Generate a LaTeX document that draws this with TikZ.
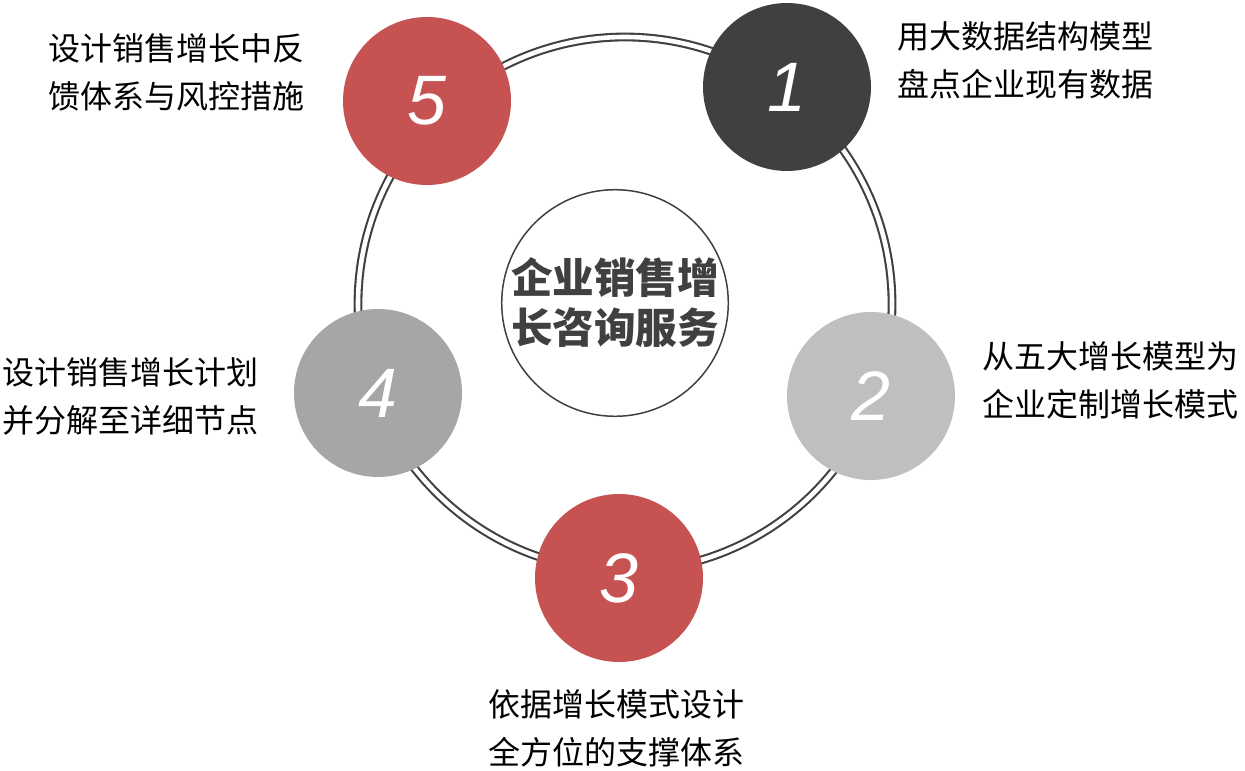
\documentclass[tikz,border=0pt]{standalone}
\usepackage{fontspec}
\setmainfont{Liberation Sans}
\newfontfamily\cjk{Noto Sans CJK SC}
\usepackage{tikz}
\usetikzlibrary{positioning,shapes.geometric}
\usepackage{xcolor}
\definecolor{stepred}{RGB}{199,82,82}
\definecolor{stepdark}{RGB}{64,64,64}
\definecolor{steplight}{RGB}{191,191,191}
\definecolor{stepmid}{RGB}{166,166,166}
\tikzset{
  bigring/.style ={circle, draw=stepdark, line width=1.05pt, double=white,
                   double distance=2.3pt, minimum size=267pt, inner sep=0pt},
  hub/.style     ={circle, draw=stepdark, line width=0.75pt, fill=white,
                   minimum size=112pt, inner sep=0pt, align=center,
                   font=\cjk\bfseries\fontsize{20.8}{25}\selectfont, text=stepdark},
  num/.style     ={circle, minimum size=84pt, inner sep=0pt, text=white,
                   font=\itshape\fontsize{35}{35}\selectfont},
  numR/.style    ={num, fill=stepred},   % Schritt 3, 5
  numD/.style    ={num, fill=stepdark},  % Schritt 1
  numL/.style    ={num, fill=steplight}, % Schritt 2
  numM/.style    ={num, fill=stepmid},   % Schritt 4
  note/.style    ={anchor=west, align=left, inner sep=0pt,
                   font=\cjk\fontsize{16}{24}\selectfont, text=black},
}

\begin{document}
\begin{tikzpicture}[x=0.5pt, y=-0.5pt]
  \useasboundingbox (0,0) rectangle (1245,770);
  \node[bigring] (ring) at (625,304) {};
  \node[hub]  (hub) at (615,303) {企业销售增\\长咨询服务};
  \node[numD] (c1) at (787,87)  {1};
  \node[numL] (c2) at (871,396) {2};
  \node[numR] (c3) at (619,578) {3};
  \node[numM] (c4) at (378,393) {4};
  \node[numR] (c5) at (427,101) {5};
  \node[note] (t1) at (897,60)  {用大数据结构模型\\盘点企业现有数据};
  \node[note] (t2) at (982,380) {从五大增长模型为\\企业定制增长模式};
  \node[note] (t3) at (488,728) {依据增长模式设计\\全方位的支撑体系};
  \node[note] (t4) at (2,396)   {设计销售增长计划\\并分解至详细节点};
  \node[note] (t5) at (48,72)   {设计销售增长中反\\馈体系与风控措施};
\end{tikzpicture}
\end{document}
